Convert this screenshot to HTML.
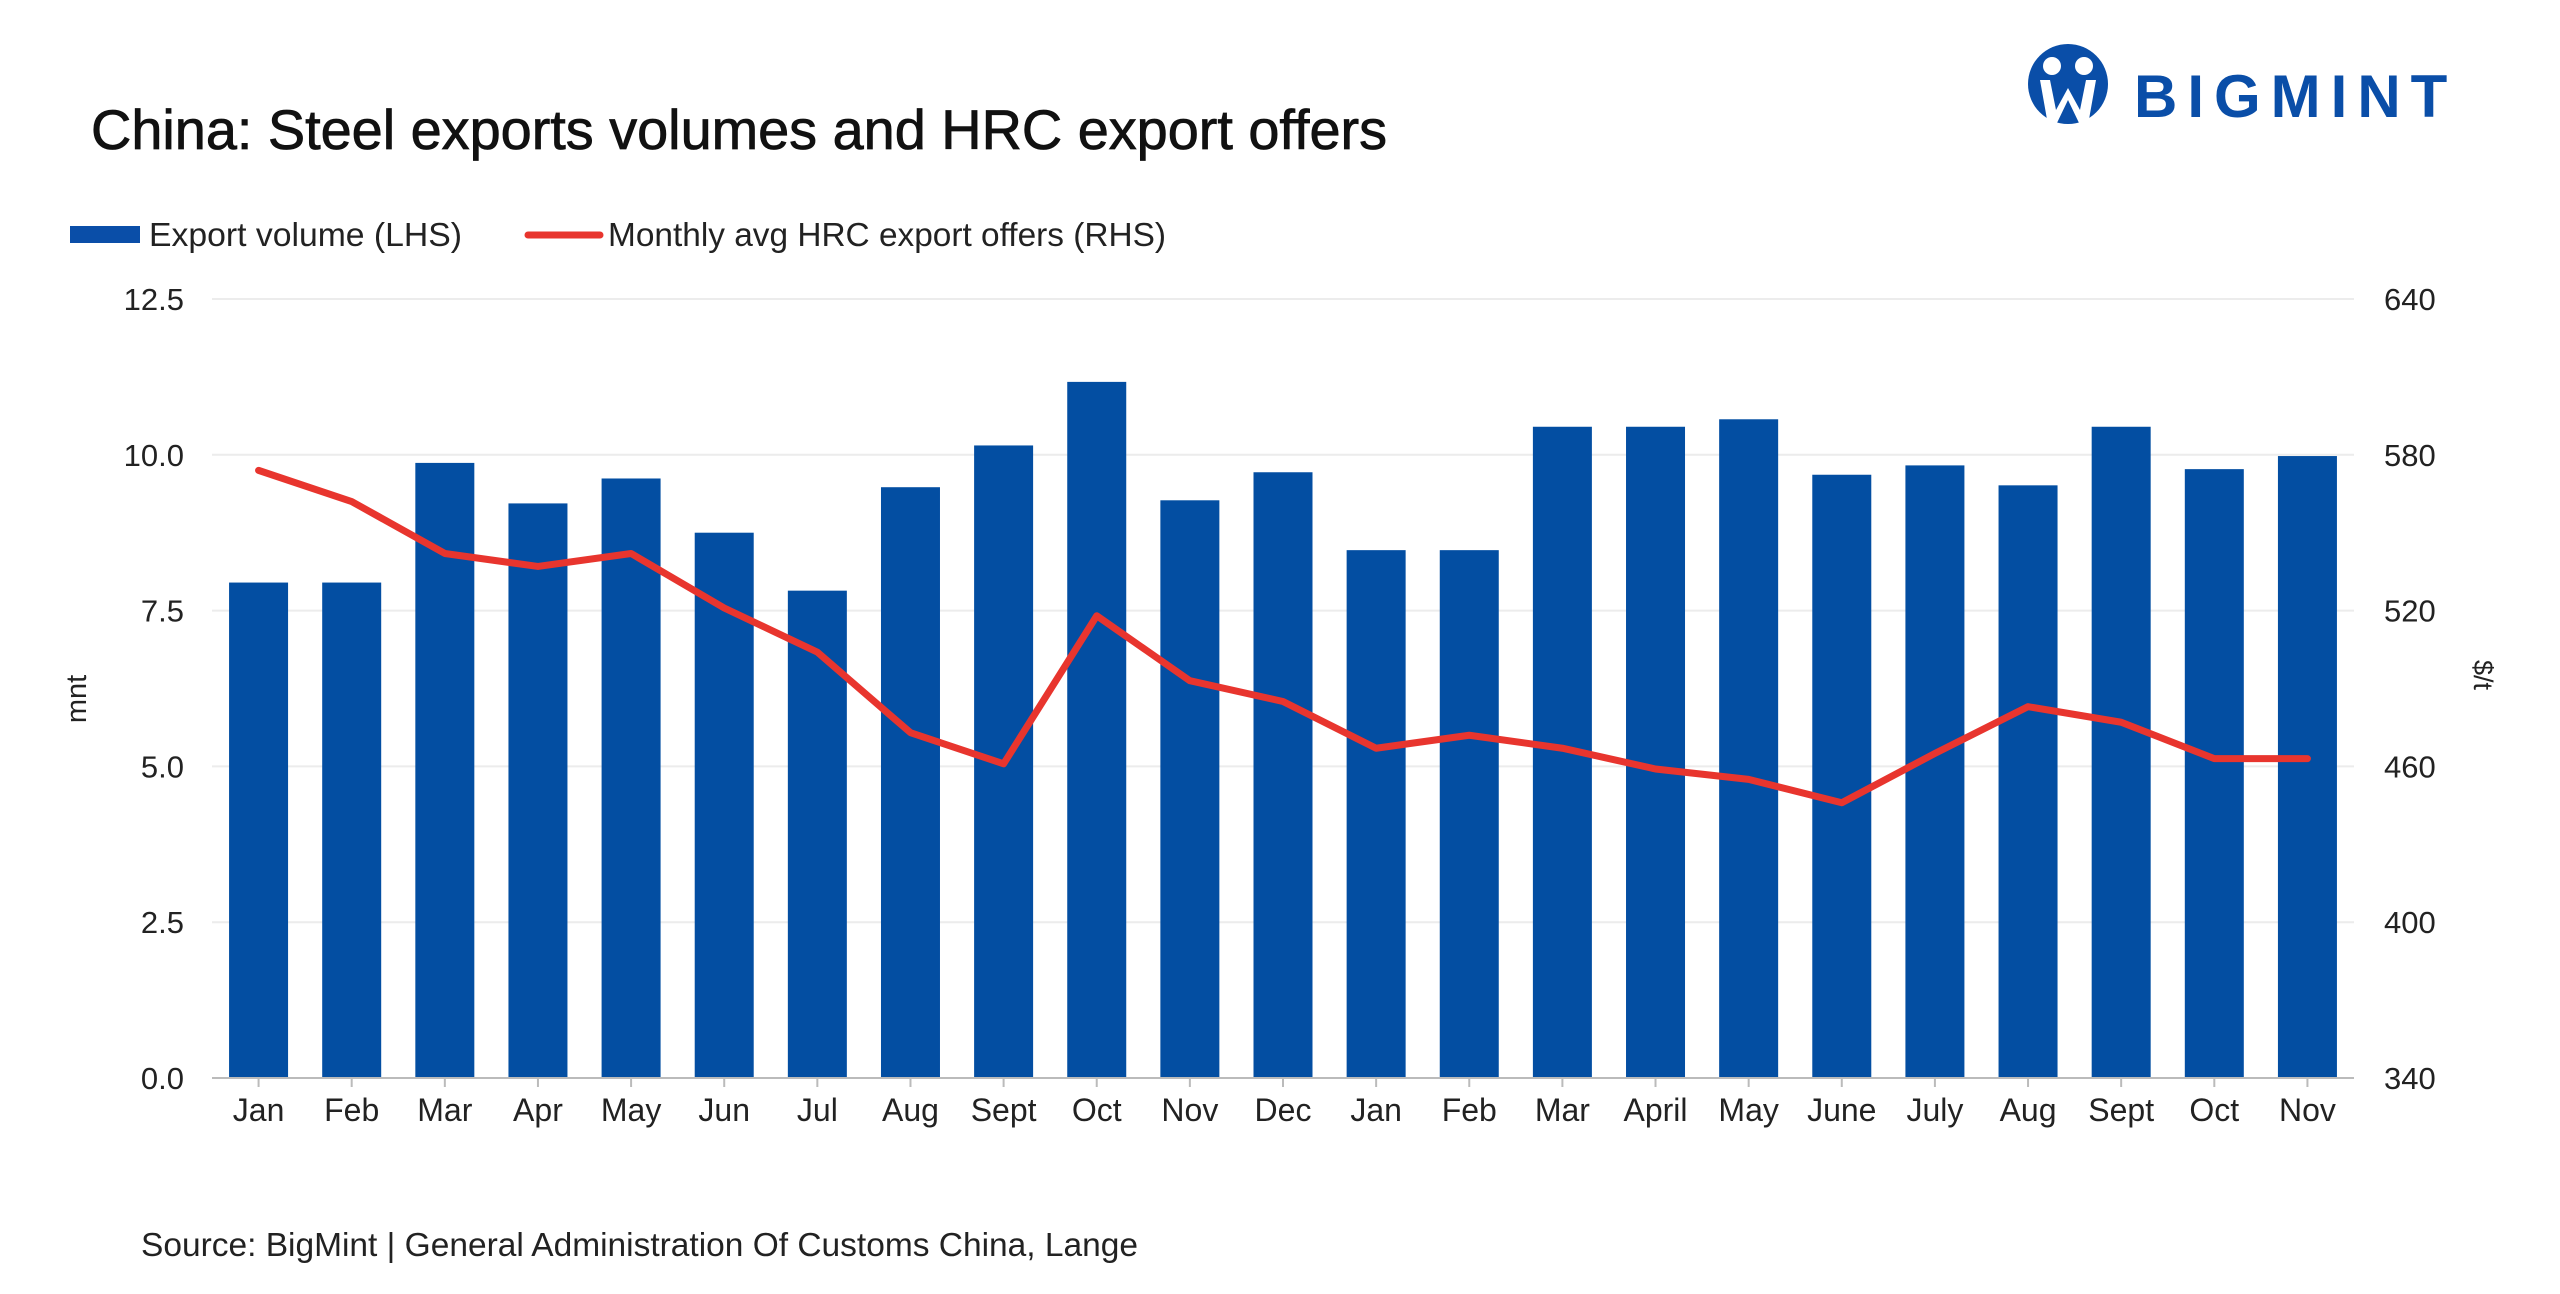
<!DOCTYPE html>
<html><head><meta charset="utf-8"><style>
body{margin:0;background:#fff;}
svg text{font-family:"Liberation Sans",sans-serif;}
</style></head><body>
<svg id="chart" width="2560" height="1289" viewBox="0 0 2560 1289" xmlns="http://www.w3.org/2000/svg">
<rect width="2560" height="1289" fill="#fff"/>
<text x="91" y="149" font-size="56" fill="#111" stroke="#111" stroke-width="0.8" textLength="1296" lengthAdjust="spacingAndGlyphs">China: Steel exports volumes and HRC export offers</text>
<g>
<circle cx="2068" cy="84" r="40" fill="#0a4ea8"/>
<circle cx="2052" cy="66" r="9" fill="#fff"/><circle cx="2084" cy="66" r="9" fill="#fff"/>
<path d="M2040 80 L2048 125 L2056 125 L2068 100 L2080 125 L2088 125 L2096 80 L2086 80 L2080 110 L2068 88 L2056 110 L2050 80Z" fill="#fff"/>
<text x="2134" y="117" font-size="60" font-weight="bold" fill="#0a4ea8" letter-spacing="10">BIGMINT</text>
</g>
<g>
<rect x="70" y="226" width="70" height="17" fill="#0a4ea8"/>
<text x="149" y="246" font-size="33" fill="#222" textLength="313" lengthAdjust="spacingAndGlyphs">Export volume (LHS)</text>
<line x1="528" y1="235" x2="600" y2="235" stroke="#e8352e" stroke-width="7" stroke-linecap="round"/>
<text x="608" y="246" font-size="33" fill="#222" textLength="558" lengthAdjust="spacingAndGlyphs">Monthly avg HRC export offers (RHS)</text>
</g>
<g id="grid"></g><g id="bars"></g><g id="line"></g><g id="axes"></g>
<text transform="translate(86,699) rotate(-90)" text-anchor="middle" font-size="29" fill="#222">mnt</text>
<text transform="translate(2474,675) rotate(90)" text-anchor="middle" font-size="27" fill="#222">$/t</text>
<text x="141" y="1256" font-size="33" fill="#222" textLength="997" lengthAdjust="spacingAndGlyphs">Source: BigMint | General Administration Of Customs China, Lange</text>
</svg>
<script>
const categories=["Jan","Feb","Mar","Apr","May","Jun","Jul","Aug","Sept","Oct","Nov","Dec","Jan","Feb","Mar","April","May","June","July","Aug","Sept","Oct","Nov"];
const exportVolume=[7.95,7.95,9.87,9.22,9.62,8.75,7.82,9.48,10.15,11.17,9.27,9.72,8.47,8.47,10.45,10.45,10.57,9.68,9.83,9.51,10.45,9.77,9.98];
const hrcOffers=[574,562,542,537,542,521,504,473,461,518,493,485,467,472,467,459,455,446,465,483,477,463,463];
const leftTicks=[0,2.5,5,7.5,10,12.5];
const rightTicks=[340,400,460,520,580,640];
const NS="http://www.w3.org/2000/svg";
const x0=212,x1=2354,yTop=299,yBot=1078;
const band=(x1-x0)/categories.length;
const xC=i=>x0+band*(i+0.5);
const yL=v=>yBot-(v-0)/(12.5-0)*(yBot-yTop);
const yR=v=>yBot-(v-340)/(640-340)*(yBot-yTop);
function mk(tag,attrs,parent){const e=document.createElementNS(NS,tag);for(const k in attrs)e.setAttribute(k,attrs[k]);document.getElementById(parent).appendChild(e);return e;}
leftTicks.forEach((t,i)=>{
 if(i>0){const g=mk('line',{x1:x0,x2:x1,y1:yL(t),y2:yL(t),stroke:'#ececec','stroke-width':2},'grid');
 
 }
 const l=mk('text',{x:184,y:yL(t)+11,'text-anchor':'end','font-size':31,fill:'#222'},'axes');l.textContent=t.toFixed(1);
 
 
});
rightTicks.forEach(t=>{
 const l=mk('text',{x:2384,y:yR(t)+11,'font-size':31,fill:'#222'},'axes');l.textContent=t;
 
 
});
const bw=59;
categories.forEach((c,i)=>{
 const b=mk('rect',{x:xC(i)-bw/2,y:yL(exportVolume[i]),width:bw,height:yBot-yL(exportVolume[i]),fill:'#034ea2'},'bars');
 
 
 const t=mk('line',{x1:xC(i),x2:xC(i),y1:yBot,y2:yBot+9,stroke:'#bbb','stroke-width':2},'axes');
 
 
 const l=mk('text',{x:xC(i),y:1121,'text-anchor':'middle','font-size':32,fill:'#222'},'axes');l.textContent=c;
 
 
});
const ax=mk('line',{x1:x0,x2:x1,y1:yBot,y2:yBot,stroke:'#bbb','stroke-width':2},'axes');


const p=mk('polyline',{points:hrcOffers.map((v,i)=>xC(i)+','+yR(v)).join(' '),fill:'none',stroke:'#e8352e','stroke-width':7,'stroke-linejoin':'round','stroke-linecap':'round'},'line');


</script>
</body></html>
